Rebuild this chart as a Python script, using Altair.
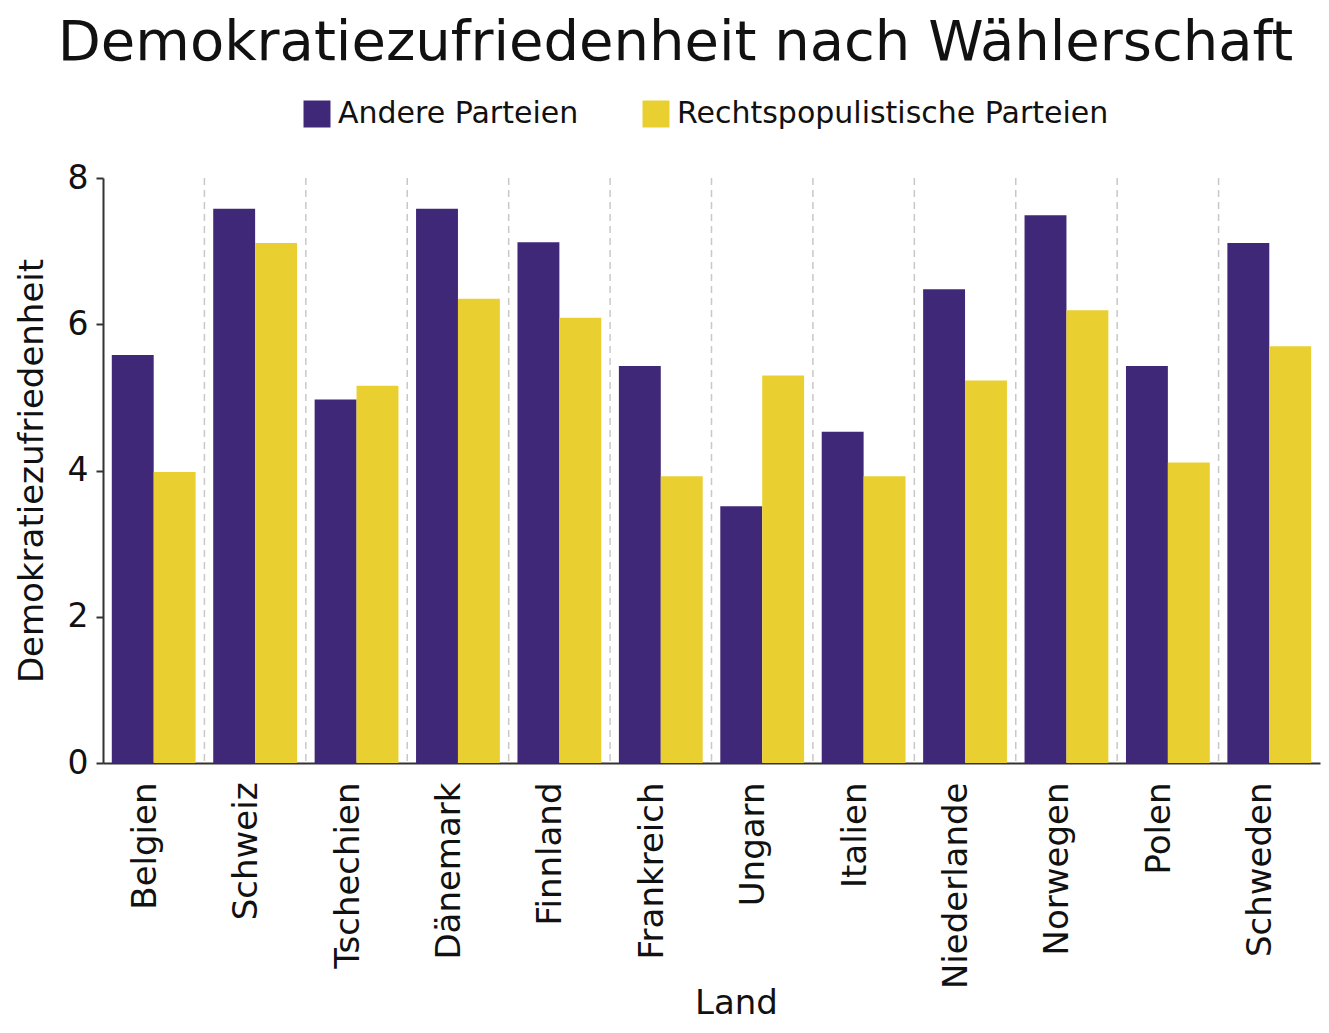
import altair as alt
import pandas as pd

laender = ["Belgien", "Schweiz", "Tschechien", "Dänemark", "Finnland", "Frankreich",
           "Ungarn", "Italien", "Niederlande", "Norwegen", "Polen", "Schweden"]
andere = [5.58, 7.58, 4.97, 7.58, 7.12, 5.43, 3.51, 4.53, 6.48, 7.49, 5.43, 7.11]
rechts = [3.98, 7.11, 5.16, 6.35, 6.09, 3.92, 5.30, 3.92, 5.23, 6.19, 4.11, 5.70]
gruppen = ["Andere Parteien", "Rechtspopulistische Parteien"]
farben = ["#402878", "#EACF30"]
y_ticks = [0, 2, 4, 6, 8]

df = pd.DataFrame({
    "Land": laender * 2,
    "Wert": andere + rechts,
    "Gruppe": [gruppen[0]] * len(laender) + [gruppen[1]] * len(laender),
})
grid_df = pd.DataFrame({"Land": laender[1:]})

FONT = "DejaVu Sans"
x_scale = alt.Scale(domain=laender, paddingInner=0, paddingOuter=0)

bars = alt.Chart(df).mark_bar().encode(
    x=alt.X("Land:N", sort=laender, scale=x_scale,
            axis=alt.Axis(title="Land", labelAngle=-90, ticks=False, tickSize=0,
                          labelPadding=19, labelOffset=-8, labelFontSize=34,
                          labelLimit=400, titleFontSize=34,
                          titleX=633, titleY=250, titleBaseline="alphabetic",
                          grid=False,
                          domainColor="#333333", domainWidth=2,
                          labelColor="#111111", titleColor="#111111",
                          labelFont=FONT, titleFont=FONT, titleFontWeight="normal")),
    xOffset=alt.XOffset("Gruppe:N", sort=gruppen,
                        scale=alt.Scale(domain=gruppen, paddingInner=0, paddingOuter=0.21)),
    y=alt.Y("Wert:Q", scale=alt.Scale(domain=[0, 8]),
            axis=alt.Axis(title="Demokratiezufriedenheit", values=y_ticks, grid=False,
                          tickSize=7, tickColor="#333333", tickWidth=2,
                          labelPadding=8, labelFontSize=33, titleFontSize=34,
                          titlePadding=18, domainColor="#333333", domainWidth=2,
                          labelColor="#111111", titleColor="#111111",
                          labelFont=FONT, titleFont=FONT, titleFontWeight="normal")),
    color=alt.Color("Gruppe:N", sort=gruppen,
                    scale=alt.Scale(domain=gruppen, range=farben),
                    legend=alt.Legend(title=None, orient="none", direction="horizontal",
                                      legendX=199, legendY=-79, symbolType="square",
                                      symbolSize=729, symbolStrokeWidth=0,
                                      labelFontSize=30, labelFont=FONT,
                                      labelColor="#111111", labelOffset=6,
                                      columnPadding=62, padding=0, labelLimit=600)),
)

grid = alt.Chart(grid_df).mark_rule(color="#c8c8c8", strokeDash=[7, 5], strokeWidth=1.5).encode(
    x=alt.X("Land:N", sort=laender, scale=x_scale, bandPosition=0)
)

chart = alt.layer(grid, bars).properties(
    width=1217,
    height=585,
    title=alt.TitleParams("Demokratiezufriedenheit nach Wählerschaft", font=FONT,
                          fontSize=56, fontWeight="normal", color="#111111",
                          anchor="middle", frame="group", dx=-36, dy=-23),
    autosize=alt.AutoSizeParams(type="none"),
    padding={"left": 95, "top": 170, "right": 1, "bottom": 261},
).configure_view(stroke=None)

chart.save("out.html", embed_options={"renderer": "svg", "actions": False})
